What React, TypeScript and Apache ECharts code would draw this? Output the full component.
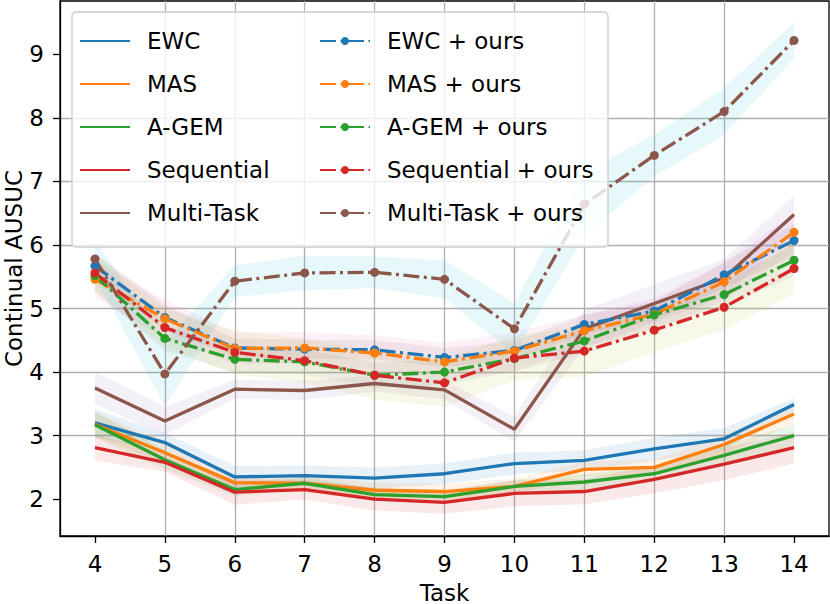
import React, { useEffect, useRef } from "react";
import * as echarts from "echarts";

const tasks = [4, 5, 6, 7, 8, 9, 10, 11, 12, 13, 14];
const yTicks = [2, 3, 4, 5, 6, 7, 8, 9];

const seriesNames = ["EWC", "MAS", "A-GEM", "Sequential", "Multi-Task"];
const oursNames = ["EWC + ours", "MAS + ours", "A-GEM + ours", "Sequential + ours", "Multi-Task + ours"];

const ewc = [3.2, 2.89, 2.35, 2.37, 2.33, 2.4, 2.56, 2.61, 2.79, 2.95, 3.49];
const mas = [3.18, 2.73, 2.26, 2.25, 2.14, 2.12, 2.2, 2.47, 2.5, 2.86, 3.34];
const agem = [3.17, 2.62, 2.15, 2.25, 2.07, 2.04, 2.2, 2.27, 2.4, 2.69, 3.0];
const sequential = [2.81, 2.58, 2.11, 2.15, 2.0, 1.95, 2.09, 2.12, 2.31, 2.55, 2.81];
const multiTask = [3.75, 3.23, 3.73, 3.71, 3.82, 3.72, 3.1, 4.68, 5.08, 5.48, 6.48];

const ewcOurs = [5.67, 4.86, 4.38, 4.36, 4.35, 4.23, 4.34, 4.75, 4.96, 5.53, 6.07];
const masOurs = [5.46, 4.84, 4.37, 4.38, 4.3, 4.16, 4.33, 4.65, 4.91, 5.42, 6.2];
const agemOurs = [5.52, 4.53, 4.2, 4.16, 3.95, 4.0, 4.21, 4.49, 4.9, 5.22, 5.76];
const sequentialOurs = [5.56, 4.7, 4.31, 4.18, 3.95, 3.83, 4.22, 4.33, 4.66, 5.02, 5.63];
const multiTaskOurs = [5.78, 3.97, 5.43, 5.56, 5.57, 5.46, 4.68, 6.64, 7.41, 8.1, 9.22];

// half-widths of the shaded bands
const ewcStd = [0.22, 0.15, 0.17, 0.16, 0.17, 0.16, 0.17, 0.16, 0.18, 0.17, 0.1];
const masStd = [0.2, 0.15, 0.12, 0.12, 0.12, 0.12, 0.12, 0.12, 0.12, 0.15, 0.15];
const agemStd = [0.2, 0.15, 0.1, 0.1, 0.1, 0.1, 0.1, 0.12, 0.12, 0.15, 0.18];
const sequentialStd = [0.2, 0.15, 0.2, 0.15, 0.18, 0.18, 0.2, 0.2, 0.22, 0.25, 0.25];
const multiTaskStd = [0.25, 0.22, 0.15, 0.15, 0.13, 0.15, 0.2, 0.3, 0.3, 0.3, 0.3];
const ewcOursStd = [0.2, 0.2, 0.15, 0.15, 0.15, 0.15, 0.15, 0.15, 0.15, 0.2, 0.25];
const masOursStd = [0.3, 0.3, 0.25, 0.25, 0.28, 0.3, 0.3, 0.25, 0.25, 0.3, 0.3];
const agemOursStd = [0.25, 0.2, 0.2, 0.2, 0.2, 0.2, 0.2, 0.2, 0.2, 0.2, 0.25];
const sequentialOursStd = [0.3, 0.3, 0.35, 0.35, 0.38, 0.38, 0.35, 0.4, 0.35, 0.35, 0.4];
const multiTaskOursStd = [0.3, 0.5, 0.25, 0.27, 0.25, 0.3, 0.4, 0.5, 0.33, 0.37, 0.28];

const lineColors = ["#1f77b4", "#ff7f0e", "#2ca02c", "#d62728", "#8c564b"];
const bandColors = [
  "#1f77b4", "#ff7f0e", "#2ca02c", "#d62728", "#9467bd",
  "#8c564b", "#e377c2", "#7f7f7f", "#bcbd22", "#17becf",
];

const FONT = "DejaVu Sans";
const DASHDOT = [16, 4.5, 3, 4.5];
const LW = 3.3;

function rgba(hex: string, a: number) {
  const n = parseInt(hex.slice(1), 16);
  return `rgba(${(n >> 16) & 255},${(n >> 8) & 255},${n & 255},${a})`;
}

function band(mean: number[], std: number[], color: string) {
  return {
    type: "custom",
    silent: true,
    z: 1,
    clip: true,
    encode: { x: 0, y: [1, 2] },
    data: tasks.map((t, i) => [t, mean[i] - std[i], mean[i] + std[i]]),
    renderItem: (params: any, api: any) => {
      if (params.dataIndex !== 0) return null;
      const pts: number[][] = [];
      for (let i = 0; i < tasks.length; i++) pts.push(api.coord([tasks[i], mean[i] + std[i]]));
      for (let i = tasks.length - 1; i >= 0; i--) pts.push(api.coord([tasks[i], mean[i] - std[i]]));
      return {
        type: "polygon",
        shape: { points: pts },
        style: { fill: rgba(color, 0.1), stroke: "none" },
      };
    },
  };
}

function line(name: string, vals: number[], color: string, ours: boolean) {
  return {
    type: "line",
    name,
    z: 2,
    silent: true,
    data: tasks.map((t, i) => [t, vals[i]]),
    symbol: ours ? "circle" : "none",
    showSymbol: ours,
    symbolSize: 9,
    itemStyle: { color },
    lineStyle: { color, width: LW, type: ours ? DASHDOT : "solid" },
    emphasis: { disabled: true },
  };
}

const baseVals = [ewc, mas, agem, sequential, multiTask];
const oursVals = [ewcOurs, masOurs, agemOurs, sequentialOurs, multiTaskOurs];
const baseStd = [ewcStd, masStd, agemStd, sequentialStd, multiTaskStd];
const oursStd = [ewcOursStd, masOursStd, agemOursStd, sequentialOursStd, multiTaskOursStd];

const legendCommon = {
  orient: "vertical",
  top: 28,
  padding: 0,
  itemWidth: 50,
  itemHeight: 10,
  itemGap: 17,
  selectedMode: false,
  z: 20,
  textStyle: {
    fontSize: 23,
    color: "#000",
    fontFamily: FONT,
    lineHeight: 26,
    padding: [0, 0, 0, 12],
  },
};

export default function App() {
  const ref = useRef<HTMLDivElement>(null);
  useEffect(() => {
    const chart = echarts.init(ref.current!, null, { renderer: "svg" });
    const series: any[] = [];
    baseVals.forEach((v, i) => series.push(band(v, baseStd[i], bandColors[i])));
    oursVals.forEach((v, i) => series.push(band(v, oursStd[i], bandColors[i + 5])));
    baseVals.forEach((v, i) => series.push(line(seriesNames[i], v, lineColors[i], false)));
    oursVals.forEach((v, i) => series.push(line(oursNames[i], v, lineColors[i], true)));

    chart.setOption({
      animation: false,
      backgroundColor: "#fff",
      textStyle: { fontFamily: FONT },
      grid: {
        left: 60,
        right: 1,
        top: 1,
        bottom: 68,
        containLabel: false,
        outerBoundsMode: "none",
        show: true,
        borderColor: "#000",
        borderWidth: 1.3,
        backgroundColor: "transparent",
      },
      xAxis: {
        type: "value",
        min: 3.5,
        max: 14.5,
        splitNumber: 11,
        name: "Task",
        nameLocation: "middle",
        nameGap: 45,
        nameMoveOverlap: false,
        nameTextStyle: { fontSize: 23, color: "#000", fontFamily: FONT },
        axisLine: { show: true, onZero: false, lineStyle: { color: "#000", width: 1.3 } },
        axisTick: { show: true, length: 7, customValues: tasks, lineStyle: { color: "#000", width: 1.3 } },
        axisLabel: { customValues: tasks, fontSize: 23, color: "#000", fontFamily: FONT, margin: 16 },
        splitLine: { show: true, showMinLine: false, showMaxLine: false, lineStyle: { color: "#b0b0b0", width: 1.3 } },
      },
      yAxis: {
        type: "value",
        min: 1.42,
        max: 9.84,
        splitNumber: 8,
        name: "Continual AUSUC",
        nameLocation: "middle",
        nameRotate: 90,
        nameGap: 35,
        nameMoveOverlap: false,
        nameTextStyle: { fontSize: 23, color: "#000", fontFamily: FONT },
        axisLine: { show: true, onZero: false, lineStyle: { color: "#000", width: 1.3 } },
        axisTick: { show: true, length: 7, customValues: yTicks, lineStyle: { color: "#000", width: 1.3 } },
        axisLabel: { customValues: yTicks, fontSize: 23, color: "#000", fontFamily: FONT, margin: 16 },
        splitLine: { show: true, showMinLine: false, showMaxLine: false, lineStyle: { color: "#b0b0b0", width: 1.3 } },
      },
      legend: [
        { ...legendCommon, left: 79, data: seriesNames, itemStyle: { opacity: 0 } },
        { ...legendCommon, left: 319, data: oursNames },
      ],
      graphic: {
        elements: [
          {
            type: "rect",
            silent: true,
            z: 10,
            shape: { x: 72, y: 12, width: 536, height: 235, r: 4 },
            style: { fill: "rgba(255,255,255,0.8)", stroke: "#cccccc", lineWidth: 1.3 },
          },
        ],
      },
      series,
    });
    return () => chart.dispose();
  }, []);
  return <div ref={ref} style={{ position: "absolute", left: 0, top: 0, width: 830, height: 604 }} />;
}
